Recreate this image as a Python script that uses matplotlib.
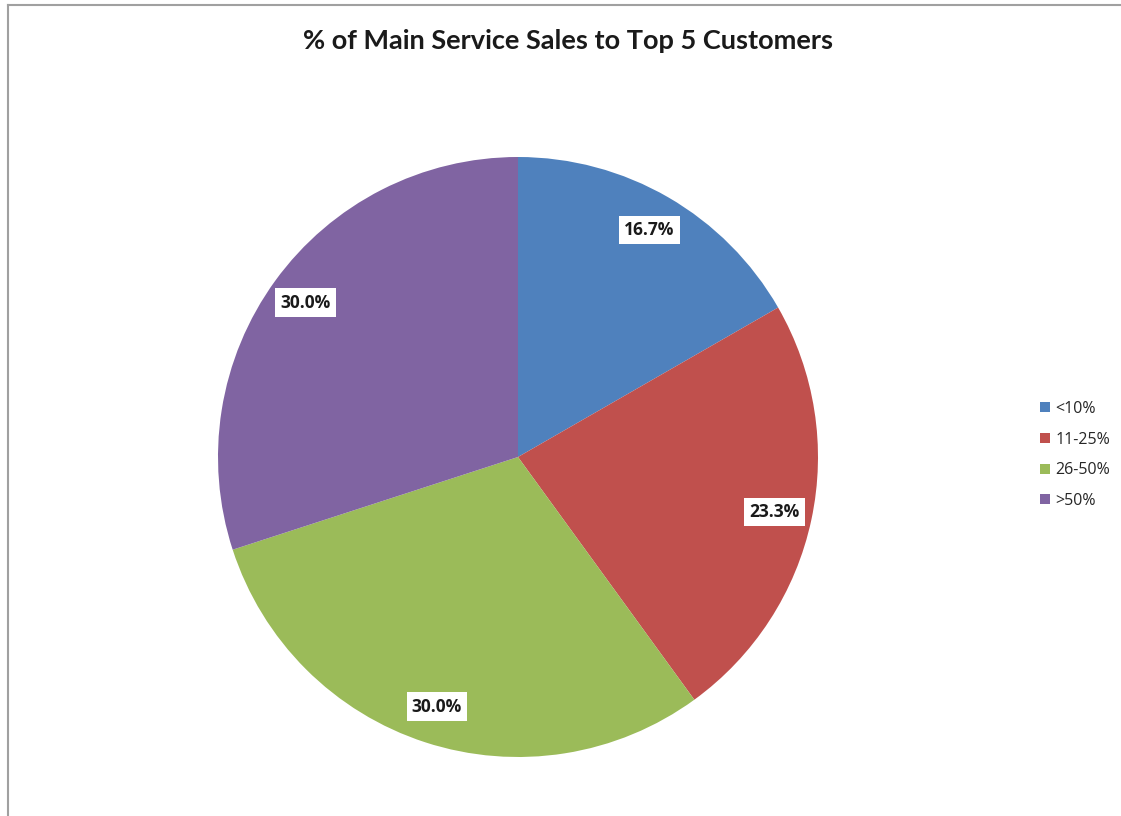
import matplotlib
matplotlib.use("Agg")
import matplotlib.pyplot as plt
from matplotlib.lines import Line2D

categories = ["<10%", "11-25%", "26-50%", ">50%"]
shares = [16.7, 23.3, 30.0, 30.0]
colors = ["#4F81BD", "#C0504D", "#9BBB59", "#8064A2"]
title = "% of Main Service Sales to Top 5 Customers"

W, H = 1121, 816
fig = plt.figure(figsize=(W / 100, H / 100), dpi=100)
fig.patch.set_facecolor("white")

# chart area border (top and left edges)
fig.add_artist(Line2D([8 / W, 8 / W], [0, 1 - 5 / H], transform=fig.transFigure,
                      color="#a0a0a0", lw=1.5))
fig.add_artist(Line2D([8 / W, 1], [1 - 5 / H, 1 - 5 / H], transform=fig.transFigure,
                      color="#a0a0a0", lw=1.5))

cx, cy, r = 518, 457, 300
ax = fig.add_axes([(cx - r) / W, (H - cy - r) / H, 2 * r / W, 2 * r / H])
wedges, _, autotexts = ax.pie(
    shares, colors=colors, startangle=90, counterclock=False,
    autopct="%.1f%%", pctdistance=0.875,
    wedgeprops=dict(linewidth=0),
    textprops=dict(fontsize=12.5, fontweight="bold", color="#1a1a1a", family="Open Sans"),
)
for t in autotexts:
    t.set_bbox(dict(boxstyle="square,pad=0.3", facecolor="white", edgecolor="none"))
ax.set_xlim(-1, 1)
ax.set_ylim(-1, 1)
ax.set_aspect("equal")

fig.text(568 / W, 1 - 41 / H, title, ha="center", va="center",
         fontsize=19.5, fontweight="bold", family="Lato", color="#1a1a1a")

leg = fig.legend(wedges, categories, loc="center left",
                 bbox_to_anchor=(1040 / W, 1 - 455 / H), frameon=False,
                 borderaxespad=0, borderpad=0,
                 handlelength=0.6, handleheight=0.6, handletextpad=0.35,
                 labelspacing=0.92, prop=dict(family="Open Sans", size=11.5))
for t in leg.get_texts():
    t.set_color("#262626")

fig.savefig("out.png", dpi=100, facecolor="white")
